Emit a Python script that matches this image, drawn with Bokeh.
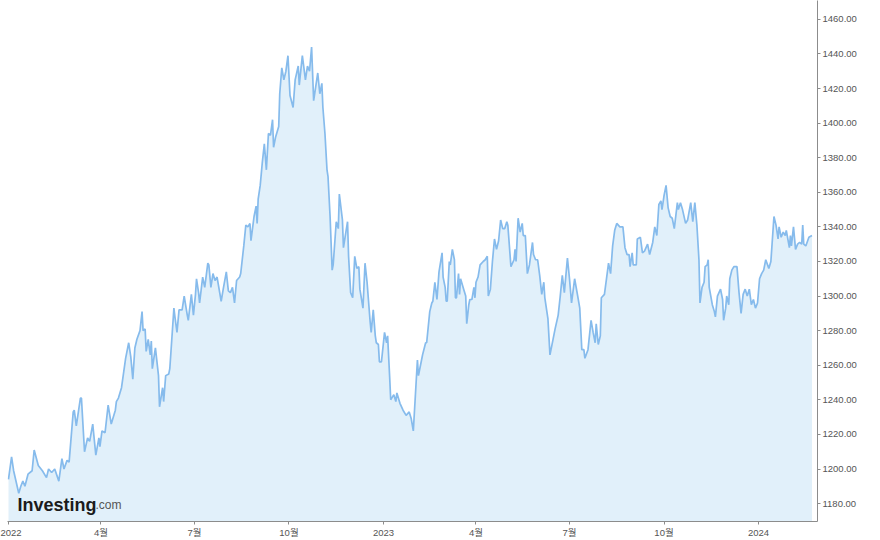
import pandas as pd
from bokeh.plotting import figure
from bokeh.models import FixedTicker, NumeralTickFormatter, Range1d, Label, ColumnDataSource
from bokeh.embed import file_html
from bokeh.resources import INLINE

# USD/KRW daily-ish closes
dates = [
    "2022-01-01", "2022-01-04", "2022-01-06", "2022-01-11", "2022-01-13", "2022-01-15", "2022-01-17", "2022-01-20", "2022-01-24", "2022-01-26", "2022-01-30",
    "2022-02-03", "2022-02-07", "2022-02-09", "2022-02-12", "2022-02-15", "2022-02-19", "2022-02-22", "2022-02-24", "2022-02-27",
    "2022-03-01", "2022-03-05", "2022-03-06", "2022-03-08", "2022-03-12", "2022-03-13", "2022-03-16", "2022-03-19", "2022-03-21", "2022-03-24", "2022-03-27", "2022-03-30", "2022-03-31",
    "2022-04-02", "2022-04-05", "2022-04-08", "2022-04-11", "2022-04-15", "2022-04-16", "2022-04-18", "2022-04-21", "2022-04-25", "2022-04-28", "2022-04-30",
    "2022-05-02", "2022-05-04", "2022-05-06", "2022-05-09", "2022-05-11", "2022-05-12", "2022-05-14", "2022-05-15", "2022-05-17", "2022-05-19", "2022-05-20", "2022-05-21", "2022-05-24", "2022-05-27", "2022-05-28", "2022-05-31",
    "2022-06-01", "2022-06-03", "2022-06-06", "2022-06-07", "2022-06-11", "2022-06-12", "2022-06-14", "2022-06-16", "2022-06-19", "2022-06-21", "2022-06-24", "2022-06-25", "2022-06-28", "2022-06-30",
    "2022-07-02", "2022-07-03", "2022-07-05", "2022-07-06", "2022-07-09", "2022-07-11", "2022-07-14", "2022-07-15", "2022-07-17", "2022-07-19", "2022-07-21", "2022-07-23", "2022-07-27", "2022-07-29",
    "2022-08-01", "2022-08-03", "2022-08-05", "2022-08-07", "2022-08-09", "2022-08-11", "2022-08-14", "2022-08-15", "2022-08-18", "2022-08-20", "2022-08-22", "2022-08-24", "2022-08-25", "2022-08-28", "2022-08-30", "2022-08-31",
    "2022-09-01", "2022-09-03", "2022-09-05", "2022-09-07", "2022-09-09", "2022-09-11", "2022-09-13", "2022-09-15", "2022-09-16", "2022-09-18", "2022-09-21", "2022-09-22", "2022-09-24", "2022-09-26", "2022-09-28", "2022-09-30",
    "2022-10-02", "2022-10-05", "2022-10-07", "2022-10-10", "2022-10-11", "2022-10-14", "2022-10-17", "2022-10-19", "2022-10-21", "2022-10-23", "2022-10-25", "2022-10-27", "2022-10-29", "2022-10-31",
    "2022-11-02", "2022-11-03", "2022-11-05", "2022-11-07", "2022-11-08", "2022-11-10", "2022-11-12", "2022-11-13", "2022-11-16", "2022-11-18", "2022-11-19", "2022-11-22", "2022-11-23", "2022-11-27", "2022-11-28", "2022-11-30",
    "2022-12-02", "2022-12-04", "2022-12-06", "2022-12-08", "2022-12-09", "2022-12-12", "2022-12-14", "2022-12-16", "2022-12-19", "2022-12-20", "2022-12-22", "2022-12-24", "2022-12-25", "2022-12-27", "2022-12-28", "2022-12-30",
    "2023-01-02", "2023-01-04", "2023-01-05", "2023-01-07", "2023-01-08", "2023-01-11", "2023-01-13", "2023-01-14", "2023-01-17", "2023-01-20", "2023-01-23", "2023-01-26", "2023-01-28", "2023-01-30",
    "2023-02-03", "2023-02-04", "2023-02-06", "2023-02-08", "2023-02-11", "2023-02-12", "2023-02-15", "2023-02-17", "2023-02-18", "2023-02-20", "2023-02-22", "2023-02-24", "2023-02-27", "2023-02-28",
    "2023-03-02", "2023-03-03", "2023-03-04", "2023-03-06", "2023-03-07", "2023-03-09", "2023-03-11", "2023-03-12", "2023-03-13", "2023-03-15", "2023-03-16", "2023-03-17", "2023-03-20", "2023-03-22", "2023-03-23", "2023-03-25", "2023-03-26", "2023-03-28", "2023-03-30", "2023-03-31",
    "2023-04-01", "2023-04-03", "2023-04-05", "2023-04-08", "2023-04-10", "2023-04-12", "2023-04-13", "2023-04-15", "2023-04-17", "2023-04-19", "2023-04-21", "2023-04-23", "2023-04-25", "2023-04-27", "2023-04-29",
    "2023-05-01", "2023-05-02", "2023-05-05", "2023-05-08", "2023-05-09", "2023-05-10", "2023-05-12", "2023-05-14", "2023-05-16", "2023-05-17", "2023-05-19", "2023-05-21", "2023-05-23", "2023-05-26", "2023-05-27", "2023-05-29", "2023-05-31",
    "2023-06-02", "2023-06-04", "2023-06-06", "2023-06-07", "2023-06-10", "2023-06-12", "2023-06-15", "2023-06-17", "2023-06-20", "2023-06-22", "2023-06-24", "2023-06-26", "2023-06-29",
    "2023-07-01", "2023-07-03", "2023-07-06", "2023-07-09", "2023-07-11", "2023-07-13", "2023-07-15", "2023-07-16", "2023-07-19", "2023-07-22", "2023-07-24", "2023-07-26", "2023-07-27", "2023-07-29", "2023-07-31",
    "2023-08-01", "2023-08-04", "2023-08-06", "2023-08-08", "2023-08-10", "2023-08-12", "2023-08-14", "2023-08-16", "2023-08-19", "2023-08-22", "2023-08-24", "2023-08-26", "2023-08-28", "2023-08-29", "2023-08-31",
    "2023-09-01", "2023-09-04", "2023-09-05", "2023-09-08", "2023-09-10", "2023-09-12", "2023-09-15", "2023-09-17", "2023-09-20", "2023-09-22", "2023-09-24", "2023-09-26", "2023-09-28", "2023-09-29",
    "2023-10-01", "2023-10-03", "2023-10-05", "2023-10-07", "2023-10-09", "2023-10-11", "2023-10-14", "2023-10-15", "2023-10-17", "2023-10-19", "2023-10-22", "2023-10-24", "2023-10-27", "2023-10-29", "2023-10-31",
    "2023-11-02", "2023-11-04", "2023-11-05", "2023-11-07", "2023-11-09", "2023-11-10", "2023-11-12", "2023-11-13", "2023-11-14", "2023-11-17", "2023-11-19", "2023-11-20", "2023-11-22", "2023-11-25", "2023-11-27", "2023-11-28", "2023-11-30",
    "2023-12-01", "2023-12-03", "2023-12-04", "2023-12-06", "2023-12-08", "2023-12-11", "2023-12-13", "2023-12-15", "2023-12-17", "2023-12-19", "2023-12-21", "2023-12-23", "2023-12-25", "2023-12-27", "2023-12-29", "2023-12-31",
    "2024-01-02", "2024-01-04", "2024-01-06", "2024-01-08", "2024-01-11", "2024-01-13", "2024-01-16", "2024-01-18", "2024-01-20", "2024-01-21", "2024-01-23", "2024-01-25", "2024-01-27", "2024-01-28", "2024-01-31",
    "2024-02-01", "2024-02-02", "2024-02-04", "2024-02-06", "2024-02-08", "2024-02-10", "2024-02-12", "2024-02-13", "2024-02-14", "2024-02-16", "2024-02-19", "2024-02-22",
]

rates = [
    1194, 1207, 1199, 1186, 1190, 1193, 1190, 1197, 1199, 1211, 1202,
    1199, 1195, 1200, 1198, 1200, 1193, 1206, 1200, 1205,
    1204, 1233, 1234, 1225, 1241, 1241, 1210, 1218, 1216, 1226, 1208, 1218, 1213,
    1222, 1221, 1237, 1226, 1234, 1239, 1241, 1247, 1264, 1273, 1265,
    1252, 1270, 1275, 1280, 1291, 1280, 1281, 1268, 1275, 1266, 1274, 1258, 1270, 1254, 1236, 1247,
    1239, 1254, 1255, 1258, 1293, 1288, 1279, 1292, 1292, 1300, 1289, 1286, 1301, 1289,
    1301, 1310, 1302, 1296, 1311, 1305, 1319, 1318, 1305, 1313, 1309, 1311, 1297, 1304,
    1314, 1303, 1302, 1305, 1296, 1309, 1311, 1313, 1329, 1341, 1340, 1342, 1332, 1346, 1352, 1342,
    1356, 1364, 1377, 1388, 1373, 1394, 1393, 1402, 1386, 1392, 1398, 1417, 1432, 1425, 1430, 1439,
    1416, 1409, 1425, 1433, 1422, 1439, 1425, 1433, 1430, 1444, 1413, 1421, 1429, 1417,
    1423, 1409, 1394, 1373, 1369, 1346, 1315, 1318, 1343, 1339, 1359, 1344, 1328, 1343, 1323, 1302,
    1299, 1323, 1316, 1317, 1304, 1293, 1319, 1308, 1285, 1279, 1292, 1277, 1273, 1272, 1262, 1262,
    1279, 1273, 1277, 1253, 1240, 1243, 1239, 1244, 1238, 1234, 1231, 1233, 1229, 1222,
    1263, 1254, 1260, 1266, 1273, 1273, 1291, 1296, 1297, 1308, 1298, 1314, 1325, 1311,
    1305, 1297, 1297, 1320, 1318, 1327, 1321, 1299, 1299, 1313, 1301, 1310, 1304, 1300, 1284, 1295, 1298, 1298, 1305, 1299,
    1308, 1311, 1318, 1320, 1321, 1323, 1300, 1304, 1320, 1333, 1327, 1332, 1344, 1339, 1339,
    1343, 1341, 1317, 1321, 1327, 1320, 1345, 1337, 1342, 1335, 1335, 1313, 1318, 1331, 1324, 1321, 1321,
    1312, 1301, 1308, 1299, 1287, 1266, 1275, 1281, 1289, 1300, 1312, 1302, 1322,
    1310, 1296, 1310, 1300, 1293, 1269, 1269, 1264, 1269, 1286, 1279, 1273, 1284, 1272, 1277,
    1299, 1301, 1310, 1319, 1313, 1329, 1338, 1342, 1340, 1340, 1328, 1324, 1324, 1317, 1325,
    1318, 1318, 1333, 1334, 1325, 1326, 1330, 1324, 1331, 1340, 1335, 1353, 1355, 1350,
    1358, 1364, 1351, 1346, 1345, 1339, 1354, 1350, 1354, 1350, 1342, 1344, 1354, 1343, 1354,
    1341, 1321, 1296, 1305, 1308, 1317, 1318, 1321, 1305, 1295, 1291, 1288, 1300, 1304, 1298, 1286, 1293,
    1300, 1295, 1310, 1315, 1317, 1317, 1302, 1290, 1301, 1304, 1300, 1304, 1295, 1298, 1293, 1296,
    1310, 1313, 1315, 1321, 1316, 1320, 1346, 1341, 1333, 1340, 1334, 1337, 1335, 1338, 1328,
    1335, 1329, 1340, 1327, 1330, 1331, 1330, 1341, 1330, 1329, 1334, 1335,
]

tick_dates = ["2022-01-01", "2022-04-01", "2022-07-01", "2022-10-01", "2023-01-01",
              "2023-04-01", "2023-07-01", "2023-10-01", "2024-01-01"]
tick_labels = ["2022", "4월", "7월", "10월", "2023", "4월", "7월", "10월", "2024"]
y_ticks = [1180, 1200, 1220, 1240, 1260, 1280, 1300, 1320, 1340, 1360, 1380, 1400, 1420, 1440, 1460]

x_start, x_end = "2021-12-31 01:00", "2024-02-27 09:00"
y_start, y_end = 1169.65, 1470.9

FONT = "'Liberation Sans', Arial, 'Noto Sans CJK KR', sans-serif"
LINE = "#86bbec"
FILL = "#e1f0fa"
GREY = "#8c8c8c"

src = ColumnDataSource(dict(x=pd.to_datetime(dates), y=rates))

p = figure(width=872, height=540, x_axis_type="datetime", y_axis_location="right",
           output_backend="svg", toolbar_location=None,
           x_range=Range1d(pd.Timestamp(x_start), pd.Timestamp(x_end)),
           y_range=Range1d(y_start, y_end),
           min_border_left=7, min_border_top=0, min_border_right=55, min_border_bottom=16)
p.outline_line_color = None
p.background_fill_color = "white"
p.border_fill_color = "white"
p.xgrid.grid_line_color = None
p.ygrid.grid_line_color = None

p.varea(x="x", y1=1000, y2="y", source=src, fill_color=FILL, fill_alpha=1.0)
p.line(x="x", y="y", source=src, line_color=LINE, line_width=1.7)

tick_ms = [pd.Timestamp(d).value / 1e6 for d in tick_dates]
p.xaxis.ticker = FixedTicker(ticks=tick_ms)
p.xaxis.major_label_overrides = {t: lab for t, lab in zip(tick_ms, tick_labels)}
p.yaxis.ticker = FixedTicker(ticks=y_ticks)
p.yaxis.formatter = NumeralTickFormatter(format="0.00")

for ax in (p.xaxis, p.yaxis):
    ax.axis_line_color = GREY
    ax.axis_line_width = 1
    ax.major_tick_line_color = GREY
    ax.major_tick_in = 0
    ax.major_tick_out = 3
    ax.minor_tick_line_color = None
    ax.major_label_text_font = FONT
    ax.major_label_text_font_size = "9.5px"
    ax.major_label_text_color = "#555555"
    ax.major_label_standoff = 2

p.add_layout(Label(x=10, y=17, x_units="screen", y_units="screen", text="Investing",
                   text_font="'Liberation Sans', Arial, sans-serif", text_font_style="bold",
                   text_font_size="18px", text_color="#1b1b1b", text_baseline="alphabetic"))
p.add_layout(Label(x=88, y=17, x_units="screen", y_units="screen", text=".com",
                   text_font="'Liberation Sans', Arial, sans-serif",
                   text_font_size="12px", text_color="#555555", text_baseline="alphabetic"))

open("out.html", "w").write(file_html(p, INLINE))
